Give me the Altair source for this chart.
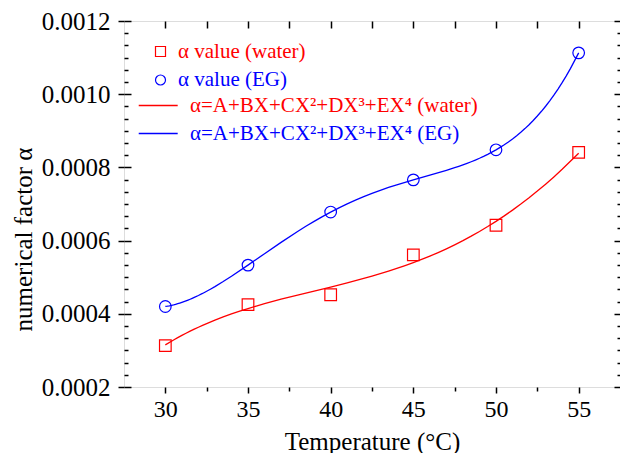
import altair as alt
import pandas as pd

# ---- data ----
temps = [30, 35, 40, 45, 50, 55]
water = [0.000313, 0.000425, 0.000452, 0.000561, 0.000642, 0.000841]
eg = [0.000420, 0.000533, 0.000678, 0.000766, 0.000848, 0.001113]

pt_labels = ["α value (water)", "α value (EG)"]
fit_labels = ["α=A+BX+CX²+DX³+EX⁴ (water)", "α=A+BX+CX²+DX³+EX⁴ (EG)"]
colors = ["#FF0000", "#0000FF"]

x_major = [30, 35, 40, 45, 50, 55]
x_minor = [32.5, 37.5, 42.5, 47.5, 52.5]
x_top = [30, 32.5, 35, 37.5, 40, 42.5, 45, 47.5, 50, 52.5, 55]
y_major = [0.0002, 0.0004, 0.0006, 0.0008, 0.0010, 0.0012]
y_minor = [round(0.0002 + k * 0.0002 / 6, 9) for k in range(1, 30) if k % 6 != 0]

rows = []
for t, v in zip(temps, water):
    rows.append({"temp": t, "alpha": v, "series": pt_labels[0], "fit": fit_labels[0]})
for t, v in zip(temps, eg):
    rows.append({"temp": t, "alpha": v, "series": pt_labels[1], "fit": fit_labels[1]})
df = pd.DataFrame(rows)

FONT = "Liberation Serif"
xs = alt.Scale(domain=[27.5, 57.5], nice=False, zero=False)
ys = alt.Scale(domain=[0.0002, 0.0012], nice=False, zero=False)

label_color = alt.ExprRef("indexof(datum.label, 'water') >= 0 ? '#FF0000' : '#0000FF'")

main_x = alt.Axis(values=x_major, tickSize=6, tickWidth=1.5, tickColor="black", domain=False,
                  grid=False, labelFont=FONT, labelFontSize=24, labelColor="black",
                  labelPadding=4, title="Temperature (°C)", titleFont=FONT, titleFontSize=25,
                  titleFontWeight="normal", titleColor="black", titleY=62,
                  titleBaseline="alphabetic")
main_y = alt.Axis(values=y_major, format=".4f", tickSize=6, tickWidth=1.5, tickColor="black",
                  domain=False, grid=False, labelFont=FONT, labelFontSize=25, labelColor="black",
                  labelPadding=8, title="numerical factor α", titleFont=FONT, titleFontSize=25,
                  titleFontWeight="normal", titleColor="black", titleX=-93, titleY=218,
                  titleBaseline="alphabetic", titleAlign="center")

lines = alt.Chart(df).transform_regression(
    "temp", "alpha", method="poly", order=4, groupby=["fit"]
).mark_line(strokeWidth=1.3).encode(
    x=alt.X("temp:Q", scale=xs, axis=main_x),
    y=alt.Y("alpha:Q", scale=ys, axis=main_y),
    stroke=alt.Stroke("fit:N", scale=alt.Scale(domain=fit_labels, range=colors),
                      legend=alt.Legend(title=None, orient="none", legendX=38, legendY=74,
                                        padding=0, labelFont=FONT, labelFontSize=21,
                                        labelColor=label_color, labelOffset=7, labelLimit=500,
                                        symbolType="M-6.5,0L1,0", symbolSize=108,
                                        symbolStrokeWidth=1.3, rowPadding=6)),
)

pt_legend = alt.Legend(title=None, orient="none", legendX=26, legendY=20, padding=0,
                       labelFont=FONT, labelFontSize=21, labelColor=label_color,
                       labelOffset=7, labelLimit=500, symbolSize=100, symbolStrokeWidth=1.2,
                       rowPadding=6.5)
points = alt.Chart(df).mark_point(filled=False, size=135, strokeWidth=1.2, opacity=1).encode(
    x=alt.X("temp:Q", scale=xs, axis=None),
    y=alt.Y("alpha:Q", scale=ys, axis=None),
    color=alt.Color("series:N", scale=alt.Scale(domain=pt_labels, range=colors), legend=pt_legend),
    shape=alt.Shape("series:N", scale=alt.Scale(domain=pt_labels, range=["square", "circle"]),
                    legend=pt_legend),
)


def x_ticks(values, orient, size, offset):
    return alt.Chart(df).mark_point(opacity=0).encode(
        x=alt.X("temp:Q", scale=xs,
                axis=alt.Axis(orient=orient, values=values, tickSize=size, offset=offset,
                              tickWidth=1.5, tickColor="black", labels=False, domain=False,
                              grid=False, title=None)),
        y=alt.Y("alpha:Q", scale=ys, axis=None),
    )


def y_ticks(values, orient, size, offset):
    return alt.Chart(df).mark_point(opacity=0).encode(
        x=alt.X("temp:Q", scale=xs, axis=None),
        y=alt.Y("alpha:Q", scale=ys,
                axis=alt.Axis(orient=orient, values=values, tickSize=size, offset=offset,
                              tickWidth=1.5, tickColor="black", labels=False, domain=False,
                              grid=False, title=None)),
    )


chart = alt.layer(
    lines,
    points,
    x_ticks(x_minor, "bottom", 4, 0),
    x_ticks(x_top, "top", 7, -7),
    y_ticks(y_major, "left", 7, -7),
    y_ticks(y_minor, "left", 4, -4),
    y_ticks(y_major, "right", 6, -6),
    y_ticks(y_minor, "right", 3, -3),
).resolve_axis(x="independent", y="independent").properties(
    width=496, height=366,
    autosize=alt.AutoSizeParams(type="none"),
    padding={"left": 116, "top": 13, "right": 0, "bottom": 66},
).configure_view(stroke="black", strokeWidth=1.5).configure(background="white")

chart.save("out.html", embed_options={"renderer": "svg", "actions": False})
